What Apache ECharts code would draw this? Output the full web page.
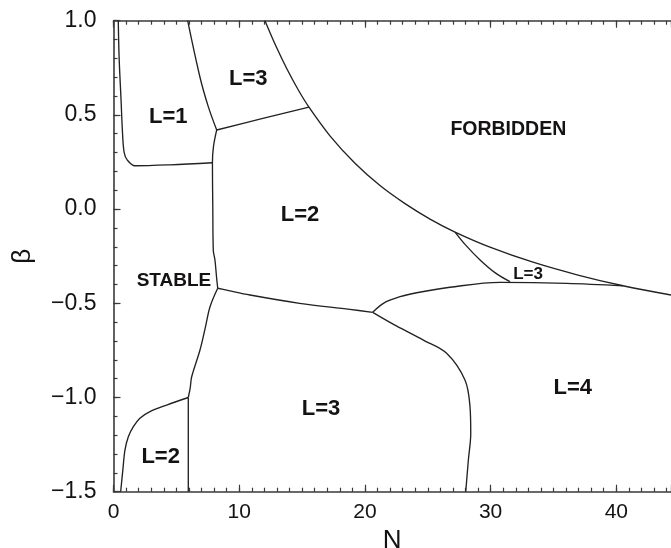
<!DOCTYPE html>
<html>
<head>
<meta charset="utf-8">
<script src="https://cdn.jsdelivr.net/npm/echarts@6/dist/echarts.min.js"></script>
<style>
  html, body { margin: 0; padding: 0; background: #fff; }
  #chart { width: 671px; height: 548px; }
</style>
</head>
<body>
<div id="chart"></div>
<script>
// Phase diagram in the (N, beta) plane: boundaries between ground-state regions.

// Left edge of the L=1 region
const bL1Left = [[0.38, 1.0], [0.45, 0.8], [0.6, 0.58], [0.72, 0.4], [0.85, 0.3], [1.1, 0.26], [1.7, 0.23], [4.5, 0.235], [7.86, 0.246]];
// L=1 / L=3 border
const bL1L3 = [[5.9, 1.0], [6.88, 0.70], [7.54, 0.544], [8.21, 0.42]];
// Upper L=3 / L=2 border
const bL3L2Top = [[8.21, 0.42], [11.8, 0.48], [15.55, 0.541]];
// Left wall of the L=2 region
const bL2Left = [[8.21, 0.42], [7.95, 0.33], [7.87, 0.246], [7.9, 0.0], [7.94, -0.22], [8.07, -0.27], [8.21, -0.37], [8.29, -0.42]];
// L=2 / lower L=3 border
const bL2L3 = [[8.29, -0.42], [9.0, -0.43], [10.86, -0.456], [14.8, -0.5], [18.8, -0.532], [20.62, -0.548]];
// Lower L=3 / L=4 border
const bL3L4 = [[20.62, -0.548], [22.5, -0.62], [24.65, -0.695], [26.5, -0.765], [27.96, -0.907], [28.36, -1.049], [28.42, -1.19], [28.23, -1.332], [28.02, -1.5]];
// L=2 / L=4 border
const bL2L4 = [[20.62, -0.548], [21.47, -0.5], [22.8, -0.465], [24.12, -0.444], [26.77, -0.415], [30.75, -0.389], [36.05, -0.394], [40.53, -0.407]];
// Edge of the forbidden zone
const bForbidden = [[12.05, 1.0], [12.93, 0.864], [13.81, 0.742], [14.68, 0.635], [15.55, 0.541], [17.22, 0.389], [19.21, 0.243], [21.2, 0.125], [23.19, 0.029], [25.18, -0.053], [27.17, -0.122], [29.95, -0.202], [33.37, -0.282], [36.95, -0.350], [40.53, -0.407], [44.35, -0.456]];
// Small L=3 pocket, left edge
const bPocket = [[27.17, -0.122], [28.0, -0.19], [29.16, -0.27], [30.4, -0.34], [31.54, -0.385]];
// Lower-left L=2 region
const bL2BottomCurve = [[0.57, -1.5], [0.75, -1.38], [0.91, -1.279], [1.18, -1.208], [1.58, -1.155], [2.1, -1.11], [2.9, -1.075], [4.23, -1.04], [5.95, -1.0]];
const bL2BottomWall = [[5.95, -1.5], [5.95, -1.0]];
// Stable / L=3 border
const bStableL3 = [[5.95, -1.0], [6.1, -0.95], [6.22, -0.89], [6.88, -0.748], [7.3, -0.63], [7.68, -0.518], [8.29, -0.42]];

// Region names and their anchor points
const regionNames = ['L=1', 'L=3', 'L=2', 'STABLE', 'FORBIDDEN', 'L=3', 'L=3', 'L=4', 'L=2'];
const regionN = [4.36, 10.72, 14.84, 4.81, 31.41, 32.98, 16.51, 36.53, 3.75];
const regionBeta = [0.49, 0.69, -0.03, -0.382, 0.424, -0.346, -1.063, -0.951, -1.314];
const regionFont = [22, 22, 22, 19, 19.5, 17, 22, 22, 22];

// Axis ticks
const nMin = 0, nMax = 44.35, nStep = 10, nMinorStep = 1;
const betaMin = -1.5, betaMax = 1.0, betaStep = 0.5, betaMinorStep = 0.1;

const FONT = 'Liberation Sans, Arial, Helvetica, sans-serif';
const INK = '#141213';
const LINE = '#222222';
const AXIS = '#3a3a3a';

const chart = echarts.init(document.getElementById('chart'), null, { renderer: 'canvas' });

const boundaries = [bL1Left, bL1L3, bL3L2Top, bL2Left, bL2L3, bL3L4, bL2L4, bForbidden, bPocket, bL2BottomCurve, bL2BottomWall, bStableL3];

function fmtBeta(v) {
  return v.toFixed(1).replace('-', '\u2212');
}

const axisLine = { show: true, onZero: false, lineStyle: { color: AXIS, width: 1.6 } };
const noLine = { show: false, onZero: false };

function xAxisDef(pos, step, tickLen, withLabels) {
  return {
    type: 'value', position: pos, min: nMin, max: nMax, interval: step,
    axisLine: withLabels !== null ? axisLine : noLine,
    axisTick: { show: true, inside: true, length: tickLen, lineStyle: { color: AXIS, width: 1.2 } },
    axisLabel: withLabels ? {
      show: true, margin: 10, fontSize: 21, fontFamily: FONT, color: INK,
      formatter: v => (Math.abs(v / nStep - Math.round(v / nStep)) < 1e-6 ? String(Math.round(v)) : '')
    } : { show: false },
    splitLine: { show: false }
  };
}

function yAxisDef(step, tickLen, withLabels) {
  return {
    type: 'value', position: 'left', min: betaMin, max: betaMax, interval: step,
    axisLine: withLabels !== null ? axisLine : noLine,
    axisTick: { show: true, inside: true, length: tickLen, lineStyle: { color: AXIS, width: 1.2 } },
    axisLabel: withLabels ? {
      show: true, margin: 17, fontSize: 23, fontFamily: FONT, color: INK, formatter: fmtBeta
    } : { show: false },
    splitLine: { show: false }
  };
}

const xAxes = [
  Object.assign(xAxisDef('bottom', nStep, 7, true), {
    name: 'N', nameLocation: 'middle', nameGap: 36,
    nameTextStyle: { fontSize: 26, fontFamily: FONT, color: INK }
  }),
  xAxisDef('bottom', nMinorStep, 4, null),
  xAxisDef('top', nStep, 7, false),
  xAxisDef('top', nMinorStep, 4, null)
];

const yAxes = [
  Object.assign(yAxisDef(betaStep, 7, true), {
    name: '\u03b2', nameLocation: 'middle', nameGap: 78, nameRotate: 90,
    nameTextStyle: { fontSize: 26, fontFamily: FONT, color: INK }
  }),
  yAxisDef(betaMinorStep, 4, null)
];

const series = boundaries.map(pts => ({
  type: 'line',
  data: pts,
  xAxisIndex: 0, yAxisIndex: 0,
  showSymbol: false,
  smooth: 0.35,
  lineStyle: { color: LINE, width: 1.35 },
  silent: true,
  animation: false
}));

series.push({
  type: 'scatter',
  xAxisIndex: 0, yAxisIndex: 0,
  symbolSize: 0,
  silent: true,
  animation: false,
  itemStyle: { opacity: 1 },
  data: regionNames.map((name, i) => ({
    name: name,
    value: [regionN[i], regionBeta[i]],
    label: {
      show: true, position: 'inside', formatter: '{b}', opacity: 1,
      textBorderWidth: 0, textShadowBlur: 0,
      fontFamily: FONT, fontWeight: 'bold', fontSize: regionFont[i], color: INK
    }
  }))
});

chart.setOption({
  animation: false,
  backgroundColor: '#ffffff',
  grid: {
    left: 113.5, top: 20.7, right: 0, bottom: 56.3,
    containLabel: false, outerBoundsMode: 'none'
  },
  xAxis: xAxes,
  yAxis: yAxes,
  series: series
});
</script>
</body>
</html>
